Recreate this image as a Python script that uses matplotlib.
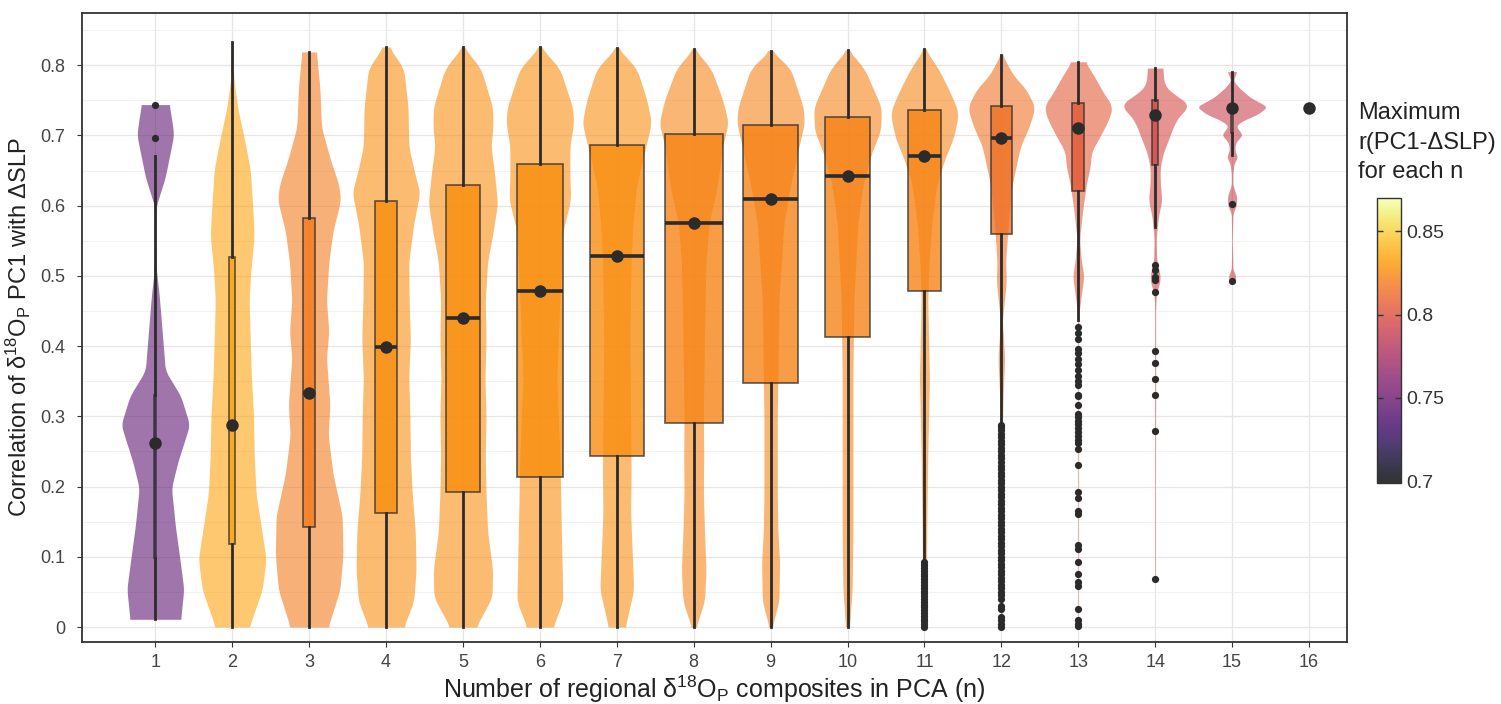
import numpy as np
import matplotlib.pyplot as plt
from matplotlib.colors import Normalize, ListedColormap
from matplotlib.cm import ScalarMappable

plt.rcParams['font.family'] = ['Liberation Sans', 'DejaVu Sans']
plt.rcParams['mathtext.fontset'] = 'custom'
plt.rcParams['mathtext.rm'] = 'Liberation Sans'
plt.rcParams['mathtext.it'] = 'Liberation Sans:italic'

# number of regional composites in the PCA
n_vals = list(range(1, 17))
# number of combinations for each n (drives box width)
n_combos = [16, 120, 560, 1820, 4368, 8008, 11440, 12870, 11440, 8008, 4368, 1820, 560, 120, 16, 1]
# maximum r for each n (colour)
max_r = [0.744, 0.834, 0.819, 0.827, 0.827, 0.827, 0.826, 0.823, 0.822, 0.822, 0.823, 0.815, 0.805, 0.796, 0.791, 0.739]

# box statistics
q1 = [0.098, 0.118, 0.143, 0.163, 0.192, 0.214, 0.243, 0.291, 0.348, 0.413, 0.479, 0.560, 0.621, 0.658, 0.704, 0.739]
med = [0.262, 0.288, 0.333, 0.399, 0.440, 0.479, 0.529, 0.576, 0.610, 0.642, 0.671, 0.696, 0.711, 0.729, 0.739, 0.739]
q3 = [0.331, 0.527, 0.583, 0.607, 0.630, 0.659, 0.687, 0.702, 0.715, 0.726, 0.736, 0.742, 0.746, 0.750, 0.745, 0.739]
whis_lo = [0.011, 0.0, 0.0, 0.0, 0.0, 0.0, 0.0, 0.0, 0.0, 0.0, 0.093, 0.289, 0.437, 0.570, 0.672, 0.739]
whis_hi = [0.671, 0.833, 0.819, 0.826, 0.826, 0.826, 0.825, 0.823, 0.821, 0.822, 0.823, 0.815, 0.805, 0.796, 0.791, 0.739]

# outliers
out_1 = [0.697, 0.744]
out_11 = [0.0, 0.004, 0.008, 0.012, 0.016, 0.02, 0.024, 0.028, 0.032, 0.036, 0.04, 0.044,
          0.048, 0.052, 0.056, 0.06, 0.064, 0.068, 0.072, 0.076, 0.08, 0.084, 0.088, 0.092]
out_12 = [0.0, 0.004, 0.01, 0.014, 0.025, 0.03, 0.04, 0.045, 0.05, 0.055, 0.06, 0.065, 0.07,
          0.075, 0.08, 0.085, 0.09, 0.095, 0.10, 0.105, 0.11, 0.115, 0.12, 0.125, 0.13,
          0.135, 0.14, 0.145, 0.15, 0.155, 0.16, 0.165, 0.17, 0.175, 0.18, 0.185, 0.19,
          0.195, 0.20, 0.205, 0.21, 0.215, 0.22, 0.225, 0.23, 0.235, 0.24, 0.245, 0.25,
          0.255, 0.26, 0.265, 0.27, 0.275, 0.28, 0.285, 0.288]
out_13 = [0.427, 0.419, 0.41, 0.396, 0.39, 0.382, 0.374, 0.366, 0.358, 0.35, 0.345, 0.331,
          0.329, 0.316, 0.304, 0.299, 0.294, 0.289, 0.283, 0.278, 0.272, 0.267, 0.262, 0.254,
          0.231, 0.192, 0.184, 0.165, 0.161, 0.117, 0.111, 0.093, 0.075, 0.064, 0.058,
          0.026, 0.01, 0.005, 0.002]
out_14 = [0.515, 0.508, 0.498, 0.494, 0.477, 0.393, 0.376, 0.353, 0.331, 0.279, 0.069]
out_15 = [0.603, 0.493]
outliers = {1: out_1, 11: out_11, 12: out_12, 13: out_13, 14: out_14, 15: out_15}

# violin outlines: y levels and half widths
violin_y = [
    [0.011, 0.054, 0.096, 0.144, 0.198, 0.234, 0.288, 0.329, 0.365, 0.413, 0.473, 0.509, 0.563, 0.599, 0.641, 0.701, 0.725, 0.744],
    [0.0, 0.053, 0.097, 0.147, 0.19, 0.245, 0.30, 0.355, 0.41, 0.465, 0.509, 0.558, 0.602, 0.652, 0.696, 0.74, 0.78, 0.833],
    [0.0, 0.053, 0.103, 0.158, 0.218, 0.273, 0.317, 0.383, 0.421, 0.465, 0.52, 0.564, 0.608, 0.63, 0.668, 0.712, 0.767, 0.819],
    [0.0, 0.037, 0.081, 0.136, 0.19, 0.245, 0.30, 0.355, 0.41, 0.465, 0.52, 0.575, 0.619, 0.652, 0.685, 0.74, 0.795, 0.826],
    [0.0, 0.042, 0.081, 0.136, 0.19, 0.245, 0.30, 0.355, 0.41, 0.465, 0.52, 0.559, 0.603, 0.647, 0.685, 0.712, 0.74, 0.795, 0.826],
    [0.0, 0.037, 0.081, 0.136, 0.19, 0.245, 0.355, 0.41, 0.465, 0.52, 0.564, 0.608, 0.641, 0.685, 0.718, 0.74, 0.795, 0.826],
    [0.0, 0.053, 0.108, 0.163, 0.218, 0.30, 0.41, 0.52, 0.575, 0.63, 0.69, 0.718, 0.751, 0.795, 0.825],
    [0.0, 0.037, 0.081, 0.136, 0.19, 0.245, 0.30, 0.41, 0.52, 0.575, 0.63, 0.685, 0.718, 0.751, 0.795, 0.823],
    [0.0, 0.037, 0.092, 0.136, 0.19, 0.30, 0.355, 0.465, 0.575, 0.63, 0.685, 0.718, 0.74, 0.795, 0.821],
    [0.0, 0.053, 0.136, 0.245, 0.355, 0.465, 0.575, 0.63, 0.674, 0.707, 0.74, 0.795, 0.822],
    [0.0, 0.053, 0.136, 0.245, 0.355, 0.465, 0.52, 0.575, 0.63, 0.668, 0.696, 0.729, 0.74, 0.767, 0.795, 0.823],
    [0.0, 0.15, 0.29, 0.328, 0.383, 0.437, 0.492, 0.52, 0.575, 0.63, 0.685, 0.712, 0.74, 0.767, 0.784, 0.815],
    [0.0, 0.2, 0.40, 0.447, 0.473, 0.50, 0.521, 0.553, 0.596, 0.634, 0.655, 0.677, 0.698, 0.72, 0.741, 0.762, 0.784, 0.805],
    [0.069, 0.2, 0.33, 0.38, 0.45, 0.473, 0.497, 0.521, 0.553, 0.586, 0.607, 0.634, 0.655, 0.677, 0.693, 0.714, 0.73, 0.742, 0.752, 0.762, 0.773, 0.796],
    [0.49, 0.50, 0.51, 0.55, 0.588, 0.601, 0.613, 0.63, 0.645, 0.66, 0.669, 0.68, 0.69, 0.701, 0.714, 0.722, 0.73, 0.741, 0.754, 0.768, 0.778, 0.791],
    [],
]
violin_hw = [
    [0.33, 0.37, 0.32, 0.26, 0.21, 0.29, 0.446, 0.33, 0.13, 0.095, 0.05, 0.013, 0.003, 0.01, 0.13, 0.24, 0.21, 0.18],
    [0.22, 0.39, 0.44, 0.37, 0.31, 0.286, 0.277, 0.25, 0.234, 0.22, 0.243, 0.286, 0.264, 0.234, 0.156, 0.07, 0.02, 0.01],
    [0.247, 0.40, 0.44, 0.43, 0.31, 0.247, 0.27, 0.225, 0.256, 0.225, 0.256, 0.31, 0.41, 0.386, 0.27, 0.16, 0.14, 0.095],
    [0.23, 0.36, 0.39, 0.38, 0.34, 0.316, 0.31, 0.295, 0.316, 0.30, 0.295, 0.36, 0.44, 0.36, 0.295, 0.286, 0.23, 0.04],
    [0.17, 0.377, 0.386, 0.32, 0.30, 0.29, 0.30, 0.286, 0.30, 0.29, 0.32, 0.386, 0.45, 0.41, 0.364, 0.39, 0.386, 0.234, 0.01],
    [0.17, 0.30, 0.29, 0.28, 0.27, 0.26, 0.22, 0.24, 0.26, 0.28, 0.30, 0.40, 0.39, 0.39, 0.44, 0.425, 0.26, 0.01],
    [0.11, 0.22, 0.20, 0.18, 0.186, 0.18, 0.17, 0.186, 0.21, 0.26, 0.39, 0.45, 0.39, 0.26, 0.01],
    [0.03, 0.14, 0.16, 0.14, 0.126, 0.13, 0.126, 0.14, 0.16, 0.2, 0.31, 0.377, 0.45, 0.377, 0.225, 0.01],
    [0.02, 0.108, 0.117, 0.095, 0.087, 0.087, 0.095, 0.108, 0.173, 0.26, 0.37, 0.44, 0.425, 0.26, 0.01],
    [0.026, 0.06, 0.07, 0.07, 0.07, 0.082, 0.134, 0.2, 0.31, 0.43, 0.44, 0.22, 0.01],
    [0.02, 0.026, 0.03, 0.043, 0.065, 0.043, 0.06, 0.095, 0.16, 0.27, 0.377, 0.44, 0.42, 0.31, 0.18, 0.01],
    [0.01, 0.012, 0.015, 0.022, 0.043, 0.013, 0.065, 0.056, 0.09, 0.14, 0.25, 0.36, 0.44, 0.316, 0.165, 0.01],
    [0.004, 0.004, 0.004, 0.009, 0.04, 0.074, 0.04, 0.017, 0.06, 0.11, 0.156, 0.17, 0.28, 0.386, 0.45, 0.32, 0.21, 0.087],
    [0.004, 0.004, 0.006, 0.006, 0.005, 0.013, 0.074, 0.02, 0.013, 0.043, 0.087, 0.065, 0.065, 0.11, 0.17, 0.24, 0.325, 0.455, 0.35, 0.195, 0.117, 0.1],
    [0.035, 0.048, 0.01, 0.004, 0.01, 0.056, 0.06, 0.01, 0.01, 0.026, 0.069, 0.035, 0.048, 0.134, 0.048, 0.156, 0.33, 0.46, 0.24, 0.09, 0.017, 0.06],
    [],
]

cmap = plt.get_cmap('inferno')
norm = Normalize(0.699, 0.870)

fig = plt.figure(figsize=(15.01, 7.04), dpi=100)
ax = fig.add_axes([0.0548, 0.0884, 0.8424, 0.8937])

# violins
for i, n in enumerate(n_vals):
    if len(violin_y[i]) == 0:
        continue
    yy = np.linspace(violin_y[i][0], violin_y[i][-1], 600)
    ww = np.interp(yy, violin_y[i], violin_hw[i])
    k = 15
    ww = np.convolve(np.pad(ww, k // 2, mode='edge'), np.ones(k) / k, mode='valid')
    ax.fill_betweenx(yy, n - ww, n + ww, color=cmap(norm(max_r[i])), alpha=0.58, lw=0, zorder=2)

# boxes
stats = []
for i in range(len(n_vals)):
    stats.append(dict(med=med[i], q1=q1[i], q3=q3[i], whislo=whis_lo[i], whishi=whis_hi[i], fliers=[]))
box_w = [0.75 * np.sqrt(c / max(n_combos)) for c in n_combos]
bp = ax.bxp(stats, positions=n_vals, widths=box_w, patch_artist=True, showcaps=False,
            showfliers=False, manage_ticks=False,
            medianprops=dict(color='#2b2b2b', lw=2.6, solid_capstyle='butt'),
            whiskerprops=dict(color='#2b2b2b', lw=2.0),
            boxprops=dict(edgecolor='#4a4a4a', lw=1.2))
for i, patch in enumerate(bp['boxes']):
    r, g, b, _ = cmap(norm(max_r[i]))
    patch.set_facecolor((r, g, b, 0.78))
    patch.set_edgecolor((0.2, 0.2, 0.2, 0.8))
    patch.set_zorder(3)
for artist in bp['whiskers'] + bp['medians']:
    artist.set_zorder(3)

# outliers
for n, vals in outliers.items():
    ax.plot([n] * len(vals), vals, 'o', ms=5.2, color='#2b2b2b', mec='none', zorder=4)

# median points
ax.plot(n_vals, med, 'o', ms=9, color='#2b2b2b', mec='none', zorder=5)

ax.set_xlim(0.05, 16.49)
ax.set_ylim(-0.021, 0.875)
ax.set_xticks(n_vals)
ax.set_xticklabels([str(n) for n in n_vals])
yt = [0, 0.1, 0.2, 0.3, 0.4, 0.5, 0.6, 0.7, 0.8]
ax.set_yticks(yt)
ax.set_yticklabels([f"{v:g}" for v in yt])
ax.set_yticks([0.05, 0.15, 0.25, 0.35, 0.45, 0.55, 0.65, 0.75, 0.85], minor=True)
ax.grid(which='major', color='#e6e6e6', lw=0.9)
ax.grid(which='minor', axis='y', color='#efefef', lw=0.6)
ax.set_axisbelow(True)
ax.tick_params(which='major', length=3.5, width=0.8, color='#333333', labelsize=13,
               labelcolor='#444444')
ax.tick_params(axis='y', pad=9)
ax.tick_params(axis='x', pad=5)
ax.tick_params(which='minor', length=0)
for sp in ax.spines.values():
    sp.set_color('#333333')
    sp.set_linewidth(1.3)

ax.set_xlabel(r'Number of regional δ$^{18}$O$_{\mathrm{P}}$ composites in PCA (n)', fontsize=18,
              color='#222222', labelpad=2)
ax.set_ylabel(r'Correlation of δ$^{18}$O$_{\mathrm{P}}$ PC1 with ΔSLP', fontsize=17,
              color='#222222', labelpad=5)

# colour bar with semi-transparent inferno
base = cmap(np.linspace(0, 1, 256))
light = base.copy()
light[:, :3] = base[:, :3] * 0.8 + 0.2
cax = fig.add_axes([0.9172, 0.314, 0.016, 0.405])
sm = ScalarMappable(norm=norm, cmap=ListedColormap(light))
cb = fig.colorbar(sm, cax=cax)
cb.set_ticks([0.7, 0.75, 0.8, 0.85])
cb.set_ticklabels(['0.7', '0.75', '0.8', '0.85'])
cb.outline.set_edgecolor('#333333')
cb.outline.set_linewidth(1.0)
cax.tick_params(length=4, width=1, direction='in', color='#333333', left=True, right=True,
                labelsize=14, labelcolor='#333333', pad=4)
fig.text(0.9047, 0.855, 'Maximum\nr(PC1-ΔSLP)\nfor each n', fontsize=17, color='#222222',
         ha='left', va='top', linespacing=1.45)

fig.savefig('out.png', dpi=100)
